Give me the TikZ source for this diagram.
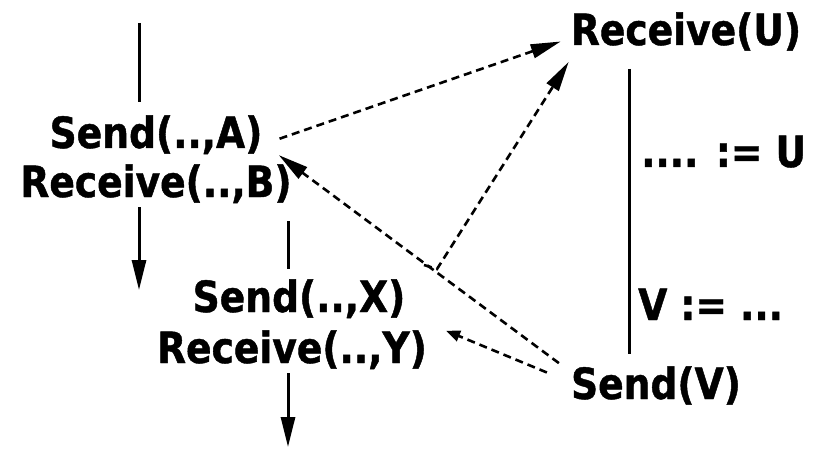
\documentclass[tikz,border=0pt]{standalone}
\usepackage{fontspec}
\setmainfont{DejaVu Sans}[FakeStretch=0.875, FakeBold=1]
\usetikzlibrary{arrows.meta}

\begin{document}
\begin{tikzpicture}[x=1pt, y=-1pt]
\tikzstyle{event}=[inner sep=0pt, anchor=base, font=\bfseries\fontsize{43}{51}\selectfont]
\tikzstyle{assign}=[event, anchor=base west]
\tikzstyle{procline}=[line width=3pt]
\tikzstyle{msgline}=[line width=2.6pt, dash pattern=on 8pt off 5pt]
\tikzstyle{bigtip}=[-{Triangle[length=30pt, width=14pt]}]
\tikzstyle{smalltip}=[-{Triangle[length=14pt, width=11pt]}]

\useasboundingbox (0,0) rectangle (821,449);

% left process
\node[event] (SendA) at (156,148) {Send(..,A)};
\node[event] (RecvB) at (156,197) {Receive(..,B)};
% middle process
\node[event] (SendX) at (299,312) {Send(..,X)};
\node[event] (RecvY) at (292,363) {Receive(..,Y)};
% right process
\node[event] (RecvU) at (686,45) {Receive(U)};
\node[assign] (UseU) at (641,167) {.... := U};
\node[assign] (DefV) at (638,320) {V := ...};
\node[event] (SendV) at (656,399) {Send(V)};

\coordinate (L0) at (139,23);
\coordinate (L1) at (139,290);
\coordinate (M0) at (288,221);
\coordinate (M1) at (288,447);
\coordinate (R) at (629,0);
\coordinate (K0) at (424,265);
\coordinate (K1) at (437,269);

\draw[procline] (L0) -- ([yshift=13pt]L0 |- SendA.north);
\draw[procline, bigtip] ([yshift=-4pt]L0 |- RecvB.south) -- (L1);
\draw[procline] (M0) -- ([yshift=10pt]M0 |- SendX.north);
\draw[procline, bigtip] ([yshift=-4pt]M0 |- RecvY.south) -- (M1);
\draw[procline] ([yshift=-18pt]R |- RecvU.south) -- ([yshift=12pt]R |- SendV.north);

\draw[msgline, bigtip] ([xshift=17pt, yshift=-4pt]SendA.east) -- ([xshift=-10pt, yshift=-10pt]RecvU.west);
\draw[msgline, bigtip] ([xshift=-12pt, yshift=3pt]SendV.north west) -- ([xshift=-13pt, yshift=9pt]RecvB.north east);
\draw[msgline, bigtip] (K0) -- (K1) -- ([xshift=-2pt, yshift=-11pt]RecvU.south west);
\draw[msgline, smalltip] ([xshift=-24pt, yshift=13pt]SendV.west) -- ([xshift=19pt, yshift=19pt]RecvY.east);
\end{tikzpicture}
\end{document}
